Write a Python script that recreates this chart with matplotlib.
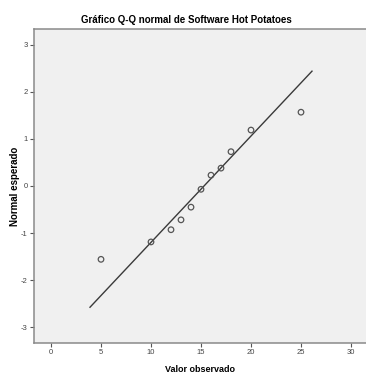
import matplotlib
matplotlib.use("Agg")
import matplotlib.pyplot as plt

# Observed scores and their expected normal quantiles
observado = [5, 10, 12, 13, 14, 15, 16, 17, 18, 20, 25]
esperado = [-1.56, -1.19, -0.93, -0.72, -0.45, -0.07, 0.23, 0.38, 0.73, 1.19, 1.57]

# Reference line z = (x - media) / desvio
media, desvio = 15.3, 4.42
linea_x = [3.9, 26.1]

xticks = [0, 5, 10, 15, 20, 25, 30]
yticks = [-3, -2, -1, 0, 1, 2, 3]

FONT = ["Liberation Sans Narrow", "Liberation Sans", "DejaVu Sans"]
plt.rcParams["font.family"] = FONT
plt.rcParams["axes.unicode_minus"] = False

W, H = 366, 376
fig = plt.figure(figsize=(W / 100, H / 100), dpi=100)
fig.patch.set_facecolor("white")
ax = fig.add_axes([34 / W, 33 / H, (W - 34) / W, (343 - 29) / H])
ax.set_facecolor("#f0f0f0")

ax.set_xlim(-1.7, 31.5)
ax.set_ylim(-3.34, 3.34)

linea_y = [(x - media) / desvio for x in linea_x]
ax.plot(linea_x, linea_y, color="#3a3a3a", lw=1.0, zorder=2)
ax.scatter(observado, esperado, s=16, facecolors="none", edgecolors="#555555",
           linewidths=0.9, zorder=3)

for side in ["top", "left", "bottom"]:
    ax.spines[side].set_color("#8a8a8a")
    ax.spines[side].set_linewidth(1.1)
ax.spines["right"].set_visible(False)

ax.set_xticks(xticks)
ax.set_yticks(yticks)
ax.tick_params(axis="both", length=3, width=0.8, color="#555555",
               labelsize=5.5, labelcolor="#444444", pad=1.5)

fig.text(186 / W, 1 - 20 / H, "Gráfico Q-Q normal de Software Hot Potatoes",
         fontsize=7, fontweight="bold", ha="center", va="center")
fig.text(200 / W, 1 - 369 / H, "Valor observado", fontsize=6.5,
         fontweight="bold", ha="center", va="center")
fig.text(15 / W, 1 - 186 / H, "Normal esperado", fontsize=7,
         fontweight="bold", ha="center", va="center", rotation=90)

fig.savefig("out.png", dpi=100, facecolor="white")
